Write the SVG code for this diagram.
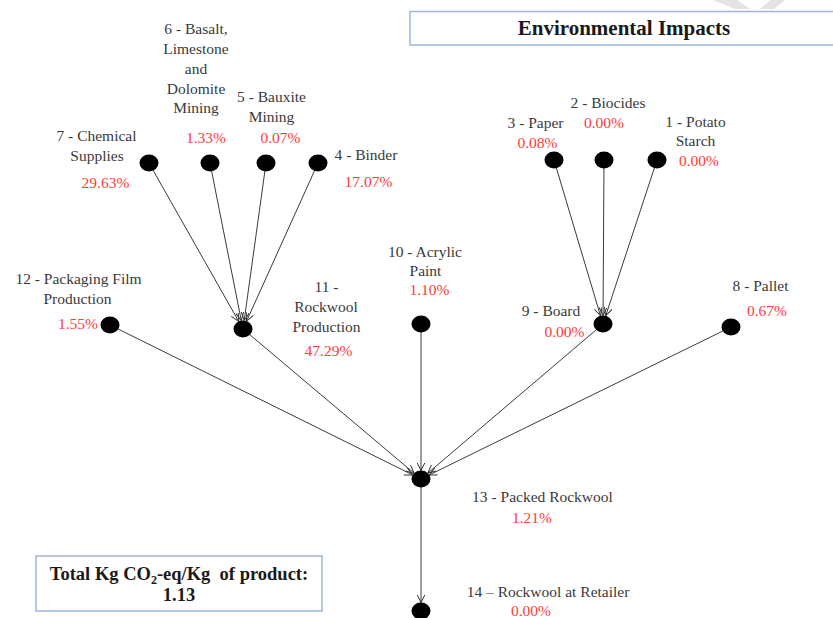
<svg xmlns="http://www.w3.org/2000/svg" width="833" height="618" viewBox="0 0 833 618">
  <defs>
    <marker id="arrow" markerWidth="10" markerHeight="10" refX="8" refY="4" orient="auto" markerUnits="userSpaceOnUse">
      <path d="M0,0 L8,4 L0,8" fill="none" stroke="#333" stroke-width="1"/>
    </marker>
    <style>
      .edge { stroke: #3a3a3a; stroke-width: 1; fill: none; marker-end: url(#arrow); }
      .dot { fill: #000; }
      .lbl { font-family: "Liberation Serif", "DejaVu Serif", serif; font-size: 15.5px; fill: #3a3a3a; text-anchor: middle; }
      .pct { font-family: "Liberation Serif", "DejaVu Serif", serif; font-size: 15.5px; fill: #ff3b3b; text-anchor: middle; }
      .box { fill: #fff; stroke: #9fb5da; stroke-width: 1.5; }
      .title { font-family: "Liberation Serif", "DejaVu Serif", serif; font-weight: bold; fill: #1a1a1a; text-anchor: middle; }
    </style>
  </defs>

  <rect width="833" height="618" fill="#fff"/>

  <!-- faint mark behind the title box -->
  <g fill="#e4e4e4">
    <polygon points="713,0 737,0 750,9 735,9"/>
    <polygon points="770,0 785,0 774,9 760,9"/>
  </g>

  <!-- title -->
  <g id="title">
    <rect class="box" x="410" y="11.5" width="430" height="33.5"/>
    <text class="title" x="624" y="35" font-size="21">Environmental Impacts</text>
  </g>

  <!-- connectors -->
  <g id="connectors">
    <line class="edge" x1="149" y1="163" x2="238.7" y2="321.4"/>
    <line class="edge" x1="210" y1="163" x2="241.3" y2="320.6"/>
    <line class="edge" x1="266" y1="163" x2="244.2" y2="320.5"/>
    <line class="edge" x1="318" y1="163" x2="246.6" y2="321.1"/>
    <line class="edge" x1="554" y1="160" x2="600.5" y2="315.8"/>
    <line class="edge" x1="604" y1="160" x2="603.05" y2="315.5"/>
    <line class="edge" x1="657" y1="160" x2="605.7" y2="315.8"/>
    <line class="edge" x1="110" y1="325" x2="412.7" y2="474.9"/>
    <line class="edge" x1="243" y1="329" x2="414.1" y2="473.2"/>
    <line class="edge" x1="421" y1="324" x2="421" y2="470.5"/>
    <line class="edge" x1="603" y1="324" x2="427.9" y2="473.1"/>
    <line class="edge" x1="731" y1="327" x2="429.3" y2="474.9"/>
    <line class="edge" x1="421" y1="479" x2="421" y2="602.5"/>
  </g>

  <!-- nodes -->
  <g id="n1">
    <ellipse class="dot" cx="657" cy="160" rx="9.5" ry="8.5"/>
    <text class="lbl" x="695.5" y="127">1 - Potato</text>
    <text class="lbl" x="695.5" y="146">Starch</text>
    <text class="pct" x="699" y="166">0.00%</text>
  </g>
  <g id="n2">
    <ellipse class="dot" cx="604" cy="160" rx="9.5" ry="8.5"/>
    <text class="lbl" x="608" y="108">2 - Biocides</text>
    <text class="pct" x="604" y="128">0.00%</text>
  </g>
  <g id="n3">
    <ellipse class="dot" cx="554" cy="160" rx="9.5" ry="8.5"/>
    <text class="lbl" x="535.5" y="128">3 - Paper</text>
    <text class="pct" x="537.5" y="148">0.08%</text>
  </g>
  <g id="n4">
    <ellipse class="dot" cx="318" cy="163" rx="9.5" ry="8.5"/>
    <text class="lbl" x="366" y="160">4 - Binder</text>
    <text class="pct" x="368.5" y="187">17.07%</text>
  </g>
  <g id="n5">
    <ellipse class="dot" cx="266" cy="163" rx="9.5" ry="8.5"/>
    <text class="lbl" x="271.5" y="102">5 - Bauxite</text>
    <text class="lbl" x="271.5" y="122">Mining</text>
    <text class="pct" x="280.5" y="143">0.07%</text>
  </g>
  <g id="n6">
    <ellipse class="dot" cx="210" cy="163" rx="9.5" ry="8.5"/>
    <text class="lbl" x="196" y="34">6 - Basalt,</text>
    <text class="lbl" x="196" y="54">Limestone</text>
    <text class="lbl" x="196" y="74">and</text>
    <text class="lbl" x="196" y="94">Dolomite</text>
    <text class="lbl" x="196" y="113">Mining</text>
    <text class="pct" x="206" y="143">1.33%</text>
  </g>
  <g id="n7">
    <ellipse class="dot" cx="149" cy="163" rx="9.5" ry="8.5"/>
    <text class="lbl" x="96.5" y="141">7 - Chemical</text>
    <text class="lbl" x="97" y="161">Supplies</text>
    <text class="pct" x="105.5" y="188">29.63%</text>
  </g>
  <g id="n8">
    <ellipse class="dot" cx="731" cy="327" rx="9.5" ry="8.5"/>
    <text class="lbl" x="760.5" y="291">8 - Pallet</text>
    <text class="pct" x="767" y="316">0.67%</text>
  </g>
  <g id="n9">
    <ellipse class="dot" cx="603" cy="324" rx="9.5" ry="8.5"/>
    <text class="lbl" x="551" y="316">9 - Board</text>
    <text class="pct" x="564.5" y="337">0.00%</text>
  </g>
  <g id="n10">
    <ellipse class="dot" cx="421" cy="324" rx="9.5" ry="8.5"/>
    <text class="lbl" x="425" y="257">10 - Acrylic</text>
    <text class="lbl" x="425.5" y="276">Paint</text>
    <text class="pct" x="429.5" y="295">1.10%</text>
  </g>
  <g id="n11">
    <ellipse class="dot" cx="243" cy="329" rx="9.5" ry="8.5"/>
    <text class="lbl" x="326.5" y="292">11 -</text>
    <text class="lbl" x="326" y="312">Rockwool</text>
    <text class="lbl" x="326.5" y="332">Production</text>
    <text class="pct" x="328.5" y="356">47.29%</text>
  </g>
  <g id="n12">
    <ellipse class="dot" cx="110" cy="325" rx="9.5" ry="8.5"/>
    <text class="lbl" x="78.5" y="284">12 - Packaging Film</text>
    <text class="lbl" x="77.5" y="304">Production</text>
    <text class="pct" x="78" y="329">1.55%</text>
  </g>
  <g id="n13">
    <ellipse class="dot" cx="421" cy="479" rx="9.5" ry="8.5"/>
    <text class="lbl" x="542.5" y="502">13 - Packed Rockwool</text>
    <text class="pct" x="532" y="523">1.21%</text>
  </g>
  <g id="n14">
    <ellipse class="dot" cx="421" cy="611" rx="9.5" ry="8.5"/>
    <text class="lbl" x="548" y="597">14 – Rockwool at Retailer</text>
    <text class="pct" x="531" y="616">0.00%</text>
  </g>

  <!-- total -->
  <g id="total">
    <rect class="box" x="36" y="556" width="286" height="55"/>
    <text class="title" x="179" y="580" font-size="18.5">Total Kg CO<tspan font-size="12" dy="4">2</tspan><tspan dy="-4">-eq/Kg&#160; of product:</tspan></text>
    <text class="title" x="179" y="601" font-size="18.5">1.13</text>
  </g>
</svg>
